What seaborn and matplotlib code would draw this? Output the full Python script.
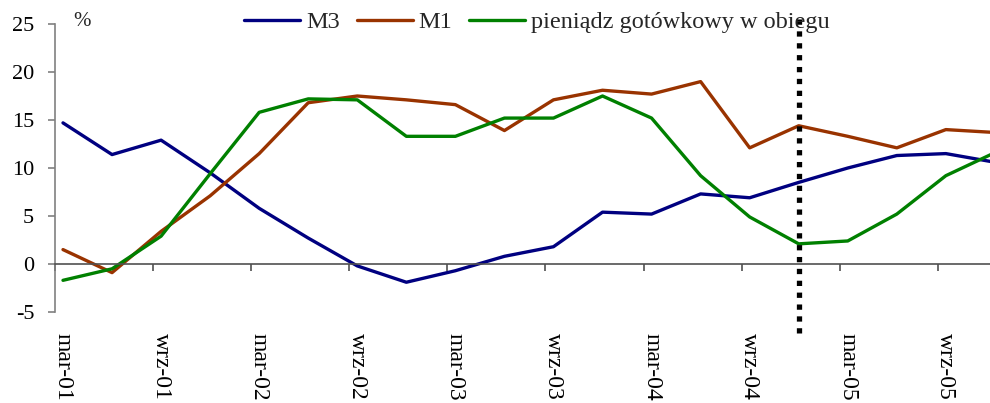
import matplotlib
matplotlib.use("Agg")
import matplotlib.pyplot as plt
import seaborn as sns
import pandas as pd
import numpy as np

months = ["mar", "cze", "wrz", "gru"]
years = ["01", "02", "03", "04", "05"]
quarters = [f"{m}-{y}" for y in years for m in months]

m3 = [14.7, 11.4, 12.9, 9.5, 5.8, 2.7, -0.2, -1.9, -0.7, 0.8,
      1.8, 5.4, 5.2, 7.3, 6.9, 8.5, 10.0, 11.3, 11.5, 10.6]
m1 = [1.5, -0.9, 3.4, 7.1, 11.5, 16.8, 17.5, 17.1, 16.6, 13.9,
      17.1, 18.1, 17.7, 19.0, 12.1, 14.4, 13.3, 12.1, 14.0, 13.7]
cash = [-1.7, -0.5, 2.9, 9.4, 15.8, 17.2, 17.1, 13.3, 13.3, 15.2,
        15.2, 17.5, 15.2, 9.2, 4.9, 2.1, 2.4, 5.2, 9.2, 11.6]

series_names = ["M3", "M1", "pieniądz gotówkowy w obiegu"]
colors = ["#000080", "#993300", "#008000"]
marker_quarter = "gru-04"

df = pd.DataFrame({"idx": np.arange(len(quarters)), "kw": quarters,
                   series_names[0]: m3, series_names[1]: m1, series_names[2]: cash})
long = df.melt(id_vars=["idx", "kw"], value_vars=series_names,
               var_name="seria", value_name="wartosc")

sns.set_theme(style="white")
plt.rcParams["font.family"] = ["Liberation Serif", "DejaVu Serif"]
plt.rcParams["font.size"] = 16

fig = plt.figure(figsize=(9.9, 4.03), dpi=100)
ax = fig.add_axes([55/990, 1-312/403, 1-55/990, (312-24)/403])

sns.lineplot(data=long, x="idx", y="wartosc", hue="seria", hue_order=series_names,
             palette=colors, linewidth=2.4, ax=ax, legend=True)

ax.set_ylim(-5, 25)
ax.set_xlim(-0.163, 18.9)
ax.set_yticks(np.arange(-5, 26, 5))
ax.set_yticklabels([str(v) for v in range(-5, 26, 5)])
ax.set_xlabel("")
ax.set_ylabel("")

# vertical dotted marker
xi = quarters.index(marker_quarter)
ax.axvline(xi, ymin=-0.073, ymax=1.024, color="black", linewidth=3.8,
           linestyle=(0, (1, 1.25)), dash_capstyle="butt", clip_on=False, zorder=5)

# spines
for s in ["top", "right"]:
    ax.spines[s].set_visible(False)
ax.spines["left"].set_color("#808080")
ax.spines["left"].set_linewidth(1.2)
ax.spines["bottom"].set_position(("data", 0))
ax.spines["bottom"].set_color("#505050")
ax.spines["bottom"].set_linewidth(1.2)

# x labels every second quarter, tick marks at category boundary
lab_idx = df["idx"].values[::2]
ax.set_xticks(lab_idx)
ax.set_xticklabels(df["kw"].values[::2], rotation=-90)
ax.set_xticks(lab_idx - 0.163, minor=True)
ax.tick_params(axis="x", which="major", length=0, pad=50, labelsize=17, colors="black")
ax.tick_params(axis="x", which="minor", length=5, width=1.2, direction="out",
               color="#505050", bottom=True)
ax.tick_params(axis="y", which="major", length=5, width=1.2, direction="out",
               color="#808080", left=True, pad=10, labelsize=16, labelcolor="black")
ax.grid(False)

fig.text(82/990, 1-22/403, "%", ha="center", va="center", fontsize=15)

ax.legend(loc="center", bbox_to_anchor=(537/990, 1-22/403), bbox_transform=fig.transFigure,
          ncol=3, frameon=False, fontsize=17.5, handlelength=2.3, handletextpad=0.25,
          columnspacing=0.7, borderpad=0, borderaxespad=0)

fig.savefig("out.png", dpi=100)
